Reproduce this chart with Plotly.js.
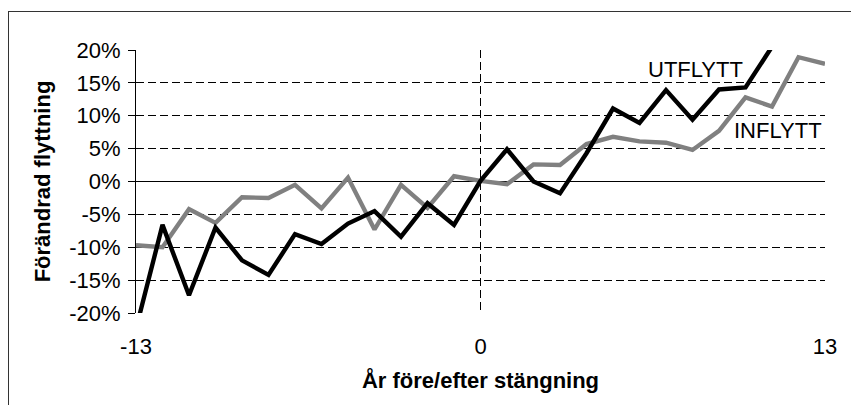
<!DOCTYPE html>
<html>
<head>
<meta charset="utf-8">
<script src="https://cdn.plot.ly/plotly-3.0.1.min.js"></script>
<style>
  html, body { margin: 0; padding: 0; background: #fff; }
  #wrap { position: relative; width: 851px; height: 405px; overflow: hidden; }
  #chart { width: 851px; height: 405px; }
  #frame { position: absolute; left: 8px; top: 11px; width: 900px; height: 450px;
           border-top: 1.5px solid #333; border-left: 1.5px solid #333; pointer-events: none; }
</style>
</head>
<body>
<div id="wrap"><div id="chart"></div><div id="frame"></div></div>
<script>
const years = [-13, -12, -11, -10, -9, -8, -7, -6, -5, -4, -3, -2, -1, 0, 1, 2, 3, 4, 5, 6, 7, 8, 9, 10, 11, 12, 13];
const utflyttYears = [-13, -12, -11, -10, -9, -8, -7, -6, -5, -4, -3, -2, -1, 0, 1, 2, 3, 4, 5, 6, 7, 8, 9, 10, 11];
const utflytt = [-22.4, -6.6, -17.3, -7.0, -12.0, -14.2, -8.0, -9.5, -6.4, -4.5, -8.4, -3.3, -6.6, 0.1, 4.9, 0.0, -1.8, 4.3, 11.1, 8.9, 13.9, 9.4, 14.0, 14.3, 20.5];
const inflytt = [-9.7, -10.0, -4.2, -6.3, -2.4, -2.5, -0.5, -4.1, 0.6, -7.3, -0.5, -4.0, 0.8, 0.1, -0.4, 2.6, 2.5, 5.7, 6.8, 6.1, 5.9, 4.8, 7.7, 12.8, 11.4, 18.9, 17.9];
const yTickVals = [-20, -15, -10, -5, 0, 5, 10, 15, 20];
const yTickText = ['-20%', '-15%', '-10%', '-5%', '0%', '5%', '10%', '15%', '20%'];
const xTickVals = [-13, 0, 13];
const xTickText = ['-13', '0', '13'];
const seriesNames = ['UTFLYTT', 'INFLYTT'];
const labelPos = [[8.12, 17.1], [11.22, 7.7]];

const font = 'Liberation Sans, Arial, sans-serif';

const traces = [
  { x: years, y: inflytt, mode: 'lines', name: seriesNames[1],
    line: { color: '#808080', width: 4.4 } },
  { x: utflyttYears, y: utflytt, mode: 'lines', name: seriesNames[0],
    line: { color: '#000000', width: 4.4 } }
];

const layout = {
  width: 851, height: 405,
  margin: { l: 136, r: 26, t: 50, b: 92 },
  paper_bgcolor: '#ffffff', plot_bgcolor: '#ffffff',
  showlegend: false,
  font: { family: font, color: '#000', size: 22 },
  xaxis: {
    range: [-13, 13],
    tickmode: 'array', tickvals: xTickVals, ticktext: xTickText,
    showgrid: true, gridcolor: '#000', griddash: '8px,4px', gridwidth: 1,
    zeroline: false, showline: false, ticks: '',
    ticklabelstandoff: 18,
    tickfont: { family: font, size: 22, color: '#000' },
    title: { text: '<b>År före/efter stängning</b>', font: { family: font, size: 22, color: '#000' }, standoff: 14 }
  },
  yaxis: {
    range: [-20, 20],
    tickmode: 'array', tickvals: yTickVals, ticktext: yTickText,
    showgrid: true, gridcolor: '#000', griddash: '8px,4px', gridwidth: 1,
    zeroline: true, zerolinecolor: '#000', zerolinewidth: 1,
    showline: true, linecolor: '#000', linewidth: 1,
    ticks: 'outside', ticklen: 7, tickcolor: '#000', tickwidth: 1,
    ticklabelstandoff: 3,
    tickfont: { family: font, size: 22, color: '#000' },
    title: { text: '<b>Förändrad flyttning</b>', font: { family: font, size: 22, color: '#000' }, standoff: 12 }
  },
  annotations: [
    { x: labelPos[0][0], y: labelPos[0][1], xref: 'x', yref: 'y', text: seriesNames[0],
      showarrow: false, xanchor: 'center', yanchor: 'middle', font: { family: font, size: 22, color: '#000' } },
    { x: labelPos[1][0], y: labelPos[1][1], xref: 'x', yref: 'y', text: seriesNames[1],
      showarrow: false, xanchor: 'center', yanchor: 'middle', font: { family: font, size: 22, color: '#000' } }
  ]
};

Plotly.newPlot('chart', traces, layout, { displayModeBar: false, staticPlot: true });
</script>
</body>
</html>
